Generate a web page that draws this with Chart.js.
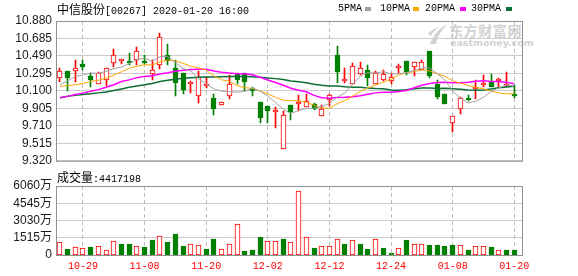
<!DOCTYPE html>
<html>
<head>
<meta charset="utf-8">
<script src="https://cdn.jsdelivr.net/npm/chart.js@4.4.1/dist/chart.umd.min.js"></script>
<style>
  body { margin: 0; background: #fff; }
  #wrap { position: relative; width: 578px; height: 276px; overflow: hidden; font-family: 'Liberation Mono', monospace; }
  canvas { position: absolute; left: 0; }
  #price { top: 0; }
  #vol { top: 170px; }
  .txt { position: absolute; font-size: 10px; line-height: 14px; color: #000; white-space: nowrap; }
  .cjk { font-family: 'Noto Sans CJK SC', sans-serif; font-size: 12px; }
  .key { position: absolute; top: 7px; width: 6px; height: 4px; }
  .wm { position: absolute; color: #d2d2d2; white-space: nowrap; }
</style>
</head>
<body>
<div id="wrap">
  <svg style="position:absolute; left:427px; top:22px" width="22" height="24" viewBox="0 0 22 24">
    <path d="M3 22 C6 14 10 8 20 2 C14 9 11 14 9 22 Z" fill="#d2d2d2"/>
    <path d="M1 12 C4 8 8 6 13 5 C8 8 6 10 4 14 Z" fill="#d2d2d2"/>
  </svg>
  <div class="wm" style="left:449px; top:20px; font: bold 14px 'Noto Sans CJK SC'; letter-spacing: 0.6px">东方财富网</div>
  <div class="wm" style="left:450px; top:37px; font: bold 9.5px 'DejaVu Sans'">eastmoney.com</div>
  <canvas id="price" width="578" height="172"></canvas>
  <canvas id="vol" width="578" height="106"></canvas>
  <div class="txt" style="left:57px; top:2px"><span class="cjk">中信股份</span>[00267] 2020-01-20 16:00</div>
  <div class="txt" style="left:338px; top:2px">5PMA</div>
  <div class="key" style="left:365px; background:#a0a0a0"></div>
  <div class="txt" style="left:380px; top:2px">10PMA</div>
  <div class="key" style="left:413px; background:#ffa500"></div>
  <div class="txt" style="left:425px; top:2px">20PMA</div>
  <div class="key" style="left:460px; background:#ff00ff"></div>
  <div class="txt" style="left:471px; top:2px">30PMA</div>
  <div class="key" style="left:506px; background:#0a6e35"></div>
  <div class="txt" style="left:57px; top:170px"><span class="cjk">成交量</span>:4417198</div>
</div>
<script>
// trading days shown (HK market)
const dates = ['10-24','10-25','10-28','10-29','10-30','10-31','11-01','11-04','11-05','11-06',
  '11-07','11-08','11-11','11-12','11-13','11-14','11-15','11-18','11-19','11-20',
  '11-21','11-22','11-25','11-26','11-27','11-28','11-29','12-02','12-03','12-04',
  '12-05','12-06','12-09','12-10','12-11','12-12','12-13','12-16','12-17','12-18',
  '12-19','12-20','12-23','12-24','12-27','12-30','12-31','01-02','01-03','01-06',
  '01-07','01-08','01-09','01-10','01-13','01-14','01-15','01-16','01-17','01-20'];
const labelDates = ['10-29','11-08','11-20','12-02','12-12','12-24','01-08','01-20'];

const open = [10.248,10.320,10.324,10.403,10.263,10.172,10.223,10.411,10.429,10.425,
  10.450,10.421,10.291,10.389,10.497,10.356,10.302,10.176,10.042,10.154,
  10.024,9.945,10.042,10.302,10.295,10.107,9.981,9.927,9.869,9.457,
  9.945,9.959,9.923,9.959,9.822,10.002,10.501,10.212,10.179,10.291,
  10.338,10.179,10.219,10.205,10.353,10.429,10.364,10.338,10.544,10.176,
  10.067,9.746,9.898,10.006,10.118,10.169,10.198,10.216,10.151,10.060];
const high = [10.360,10.324,10.443,10.443,10.295,10.313,10.356,10.566,10.454,10.519,
  10.595,10.501,10.450,10.746,10.620,10.447,10.302,10.216,10.320,10.255,
  10.060,9.977,10.277,10.302,10.302,10.143,9.981,9.927,9.916,9.876,
  9.945,10.053,10.064,9.970,9.945,10.067,10.602,10.356,10.407,10.421,
  10.385,10.320,10.335,10.295,10.403,10.429,10.421,10.447,10.544,10.219,
  10.067,9.818,10.031,10.053,10.219,10.277,10.284,10.241,10.306,10.169];
const low = [10.198,10.104,10.198,10.331,10.147,10.172,10.151,10.367,10.396,10.393,
  10.385,10.403,10.219,10.349,10.393,10.039,10.060,10.075,9.966,10.133,
  9.833,9.945,10.006,10.179,10.104,10.042,9.746,9.743,9.685,9.457,
  9.771,9.880,9.916,9.887,9.822,9.930,10.183,10.187,10.179,10.277,
  10.151,10.179,10.205,10.179,10.295,10.277,10.266,10.331,10.241,10.006,
  9.952,9.645,9.844,9.988,10.006,10.140,10.147,10.133,10.140,10.024];
const close = [10.320,10.241,10.356,10.364,10.219,10.302,10.356,10.497,10.454,10.415,
  10.541,10.415,10.335,10.703,10.432,10.183,10.107,10.183,10.259,10.161,
  9.898,9.977,10.172,10.223,10.201,10.100,9.800,9.876,9.876,9.826,
  9.862,9.966,9.988,9.900,9.900,10.053,10.313,10.219,10.382,10.356,
  10.248,10.302,10.284,10.259,10.360,10.313,10.421,10.421,10.270,10.035,
  9.952,9.818,10.024,9.999,10.125,10.176,10.147,10.223,10.172,10.039];

const ma5 = [10.169,10.212,10.259,10.277,10.300,10.296,10.319,10.348,10.366,10.405,
  10.453,10.464,10.432,10.482,10.485,10.414,10.352,10.322,10.233,10.179,
  10.122,10.096,10.093,10.086,10.094,10.135,10.099,10.040,9.971,9.896,
  9.848,9.881,9.904,9.908,9.923,9.961,10.030,10.078,10.172,10.265,
  10.304,10.301,10.314,10.290,10.291,10.304,10.327,10.355,10.357,10.292,
  10.220,10.099,10.020,9.966,9.984,10.028,10.094,10.134,10.169,10.151];
const ma10 = [10.151,10.158,10.169,10.183,10.205,10.219,10.241,10.277,10.313,10.352,
  10.375,10.392,10.390,10.424,10.445,10.433,10.408,10.377,10.357,10.332,
  10.268,10.224,10.208,10.160,10.136,10.128,10.097,10.067,10.028,9.995,
  9.991,9.990,9.972,9.940,9.910,9.905,9.956,9.991,10.041,10.094,
  10.133,10.166,10.196,10.231,10.278,10.304,10.314,10.335,10.323,10.291,
  10.262,10.213,10.187,10.161,10.138,10.124,10.097,10.077,10.067,10.068];
const ma20 = [10.024,10.039,10.060,10.075,10.096,10.114,10.140,10.169,10.205,10.223,
  10.248,10.262,10.270,10.288,10.302,10.320,10.331,10.338,10.342,10.342,
  10.321,10.308,10.299,10.292,10.291,10.281,10.253,10.222,10.193,10.163,
  10.129,10.107,10.090,10.050,10.023,10.017,10.027,10.029,10.035,10.045,
  10.062,10.078,10.084,10.086,10.094,10.104,10.135,10.163,10.182,10.193,
  10.197,10.190,10.192,10.196,10.208,10.214,10.206,10.206,10.195,10.179];
const ma30 = [10.024,10.039,10.050,10.060,10.067,10.078,10.089,10.104,10.122,10.140,
  10.154,10.169,10.183,10.205,10.219,10.230,10.241,10.248,10.252,10.255,
  10.255,10.259,10.262,10.262,10.262,10.259,10.252,10.244,10.237,10.226,
  10.211,10.202,10.190,10.175,10.164,10.155,10.154,10.145,10.142,10.140,
  10.131,10.127,10.125,10.110,10.108,10.112,10.123,10.131,10.131,10.127,
  10.129,10.123,10.118,10.111,10.108,10.111,10.122,10.134,10.144,10.151];

// volume in 万 shares
const volume = [1142,527,673,615,703,761,439,1200,966,966,
  761,703,1318,1640,1142,1845,791,937,849,527,
  1405,498,937,2723,351,439,1581,1200,1200,1405,
  1142,5592,1552,615,761,761,1435,966,1288,966,
  527,1435,615,176,586,1318,937,937,878,878,
  791,878,849,439,761,761,703,410,439,441.7];

const priceTicks = [9.320, 9.515, 9.710, 9.905, 10.100, 10.295, 10.490, 10.685, 10.880];
const volTicks = [0, 1515, 3030, 4545, 6060];

const UP = '#ff0000';
const DOWN = '#008000';
const GRID = '#cccccc';
const AXIS_FONT = { family: "'Liberation Sans', 'Noto Sans CJK SC', sans-serif", size: 12 };

const candleUp = close.map((c, i) => c >= open[i]);
const volUp = close.map((c, i) => i === 0 || c >= close[i - 1]);

// frame round the plot area
const framePlugin = {
  id: 'frame',
  afterDraw(chart) {
    const { ctx, chartArea: a } = chart;
    ctx.save();
    ctx.strokeStyle = '#919191';
    ctx.lineWidth = 1;
    ctx.strokeRect(a.left + 0.5, a.top + 0.5, a.width, a.height);
    ctx.restore();
  }
};

// dashed vertical lines at the labelled dates
const dateLinesPlugin = {
  id: 'dateLines',
  beforeDatasetsDraw(chart) {
    const { ctx, chartArea: a } = chart;
    const xs = chart.scales.x;
    ctx.save();
    ctx.strokeStyle = '#bdbdbd';
    ctx.lineWidth = 1;
    ctx.setLineDash([4, 3]);
    labelDates.forEach(d => {
      const px = Math.floor(xs.getPixelForValue(dates.indexOf(d))) + 0.5;
      ctx.beginPath();
      ctx.moveTo(px, a.top);
      ctx.lineTo(px, a.bottom);
      ctx.stroke();
    });
    ctx.restore();
  }
};

// keep bars on whole pixels so thin wicks stay crisp
const snapPlugin = {
  id: 'snap',
  afterDatasetsUpdate(chart) {
    chart.data.datasets.forEach((ds, di) => {
      const meta = chart.getDatasetMeta(di);
      if (meta.type !== 'bar') return;
      meta.data.forEach(el => {
        el.x = Math.floor(el.x) + 0.5;
        el.y = Math.round(el.y);
        el.base = Math.round(el.base);
      });
    });
  }
};

const xScale = (showLabels) => ({
  type: 'linear',
  min: -0.5,
  max: 60,
  offset: false,
  afterBuildTicks: scale => { scale.ticks = labelDates.map(d => ({ value: dates.indexOf(d) })); },
  afterFit: showLabels ? (scale => { scale.height = 21; }) : (scale => { scale.height = 0; }),
  grid: { display: false, drawTicks: false, tickLength: 0 },
  border: { display: false },
  ticks: {
    display: showLabels,
    autoSkip: false,
    maxRotation: 0,
    padding: 5,
    color: '#ff0000',
    font: { family: "'Liberation Mono', monospace", size: 10 },
    callback: v => dates[v]
  }
});

const line = (label, values, color, width) => ({
  type: 'line',
  label,
  data: values.map((v, i) => ({ x: i, y: v })),
  borderColor: color,
  borderWidth: width,
  pointRadius: 0,
  tension: 0
});

new Chart(document.getElementById('price'), {
  type: 'line',
  data: {
    datasets: [
      line('5PMA', ma5, '#a0a0a0', 1),
      line('10PMA', ma10, '#ffa500', 1),
      line('20PMA', ma20, '#ff00ff', 1.5),
      line('30PMA', ma30, '#0a6e35', 1.5),
      {
        type: 'bar',
        label: 'body',
        data: open.map((o, i) => ({ x: i, y: [o, close[i]] })),
        grouped: false,
        barThickness: 5,
        minBarLength: 2,
        borderWidth: 1,
        borderSkipped: false,
        backgroundColor: candleUp.map(u => u ? '#ffffff' : DOWN),
        borderColor: candleUp.map(u => u ? UP : DOWN)
      },
      {
        type: 'bar',
        label: 'wick',
        data: low.map((l, i) => ({ x: i, y: [l, high[i]] })),
        grouped: false,
        barThickness: 1,
        backgroundColor: candleUp.map(u => u ? UP : DOWN)
      }
    ]
  },
  options: {
    responsive: false,
    devicePixelRatio: 1,
    animation: false,
    events: [],
    layout: { padding: { top: 21, right: 56, bottom: 7, left: 0 } },
    plugins: { legend: { display: false }, tooltip: { enabled: false } },
    scales: {
      x: xScale(false),
      y: {
        type: 'linear',
        min: 9.32,
        max: 10.88,
        afterFit: scale => { scale.width = 56; },
        afterBuildTicks: scale => { scale.ticks = priceTicks.map(v => ({ value: v })); },
        grid: { color: GRID, drawTicks: false },
        border: { display: false },
        ticks: { autoSkip: false, padding: 4, color: '#1a1a1a', font: AXIS_FONT, callback: v => v.toFixed(3) }
      }
    }
  },
  plugins: [snapPlugin, dateLinesPlugin, framePlugin]
});

new Chart(document.getElementById('vol'), {
  type: 'bar',
  data: {
    datasets: [{
      label: 'volume',
      data: volume.map((v, i) => ({ x: i, y: v })),
      barThickness: 5,
      borderWidth: 1,
      borderSkipped: false,
      backgroundColor: volUp.map(u => u ? '#ffffff' : DOWN),
      borderColor: volUp.map(u => u ? UP : DOWN)
    }]
  },
  options: {
    responsive: false,
    devicePixelRatio: 1,
    animation: false,
    events: [],
    layout: { padding: { top: 16, right: 56, bottom: 0, left: 0 } },
    plugins: { legend: { display: false }, tooltip: { enabled: false } },
    scales: {
      x: xScale(true),
      y: {
        type: 'linear',
        min: 0,
        max: 6060,
        afterFit: scale => { scale.width = 56; },
        afterBuildTicks: scale => { scale.ticks = volTicks.map(v => ({ value: v })); },
        grid: { color: GRID, drawTicks: false },
        border: { display: false },
        ticks: { autoSkip: false, padding: 4, color: '#1a1a1a', font: AXIS_FONT, callback: v => v === 0 ? '0' : v + '万' }
      }
    }
  },
  plugins: [snapPlugin, dateLinesPlugin, framePlugin]
});
</script>
</body>
</html>
